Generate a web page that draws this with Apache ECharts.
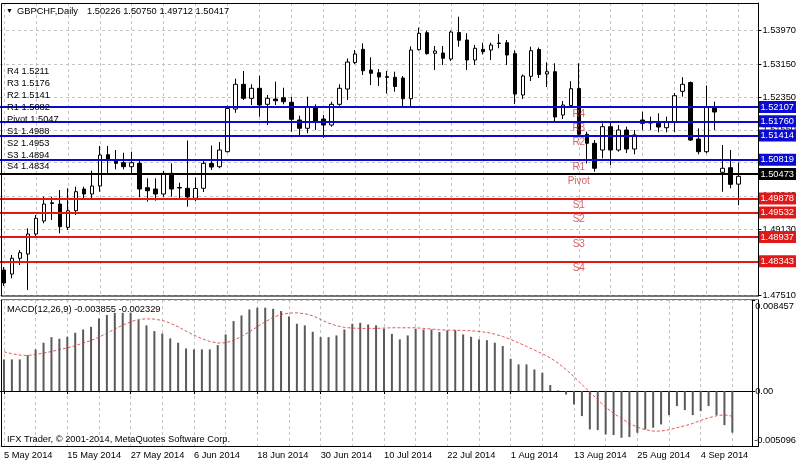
<!DOCTYPE html>
<html>
<head>
<meta charset="utf-8">
<script src="https://cdn.jsdelivr.net/npm/echarts@6/dist/echarts.min.js"></script>
<style>
html,body{margin:0;padding:0;background:#fff;}
#chart{width:799px;height:464px;}
</style>
</head>
<body>
<div id="chart"></div>
<script>
// ---------- DATA ----------
const categories = [
'5 May 2014','6 May 2014','7 May 2014','8 May 2014','9 May 2014','12 May 2014','13 May 2014','14 May 2014','15 May 2014','16 May 2014',
'19 May 2014','20 May 2014','21 May 2014','22 May 2014','23 May 2014','26 May 2014','27 May 2014','28 May 2014','29 May 2014','30 May 2014',
'2 Jun 2014','3 Jun 2014','4 Jun 2014','5 Jun 2014','6 Jun 2014','9 Jun 2014','10 Jun 2014','11 Jun 2014','12 Jun 2014','13 Jun 2014',
'16 Jun 2014','17 Jun 2014','18 Jun 2014','19 Jun 2014','20 Jun 2014','23 Jun 2014','24 Jun 2014','25 Jun 2014','26 Jun 2014','27 Jun 2014',
'30 Jun 2014','1 Jul 2014','2 Jul 2014','3 Jul 2014','4 Jul 2014','7 Jul 2014','8 Jul 2014','9 Jul 2014','10 Jul 2014','11 Jul 2014',
'14 Jul 2014','15 Jul 2014','16 Jul 2014','17 Jul 2014','18 Jul 2014','21 Jul 2014','22 Jul 2014','23 Jul 2014','24 Jul 2014','25 Jul 2014',
'28 Jul 2014','29 Jul 2014','30 Jul 2014','31 Jul 2014','1 Aug 2014','4 Aug 2014','5 Aug 2014','6 Aug 2014','7 Aug 2014','8 Aug 2014',
'11 Aug 2014','12 Aug 2014','13 Aug 2014','14 Aug 2014','15 Aug 2014','18 Aug 2014','19 Aug 2014','20 Aug 2014','21 Aug 2014','22 Aug 2014',
'25 Aug 2014','26 Aug 2014','27 Aug 2014','28 Aug 2014','29 Aug 2014','1 Sep 2014','2 Sep 2014','3 Sep 2014','4 Sep 2014','5 Sep 2014',
'8 Sep 2014','9 Sep 2014','10 Sep 2014','11 Sep 2014','12 Sep 2014'
];

const opens = [
1.48131,1.48033,1.48417,1.48521,1.49009,1.49327,1.49754,1.49741,1.49173,1.49578,
1.50107,1.49985,1.50181,1.50944,1.50815,1.50749,1.50652,1.50734,1.50139,1.50107,
1.49985,1.50490,1.50144,1.50125,1.49881,1.50125,1.50730,1.50652,1.51018,1.52059,
1.52662,1.52320,1.52565,1.52174,1.52303,1.52335,1.52223,1.51791,1.51589,1.52116,
1.51815,1.51669,1.52174,1.52547,1.53194,1.53516,1.53011,1.52945,1.52848,1.52833,
1.52816,1.52311,1.53506,1.53921,1.53419,1.53426,1.53279,1.53926,1.53743,1.53255,
1.53516,1.53499,1.53658,1.53677,1.53409,1.52401,1.52857,1.53511,1.52913,1.52970,
1.51913,1.52145,1.52560,1.51442,1.51223,1.51059,1.51628,1.51059,1.51547,1.51083,
1.51791,1.51730,1.51725,1.51603,1.51750,1.52491,1.52706,1.51327,1.51018,1.52116,
1.50515,1.50627,1.50226
];
const highs = [
1.48204,1.48497,1.48619,1.49149,1.49473,1.49920,1.49920,1.50083,1.50125,1.50164,
1.50164,1.50554,1.51157,1.51157,1.51059,1.50993,1.51018,1.50815,1.50369,1.50369,
1.50554,1.50734,1.50261,1.51291,1.50388,1.50839,1.51169,1.51254,1.52145,1.52799,
1.52987,1.52662,1.52872,1.52401,1.52726,1.52579,1.52360,1.51896,1.52360,1.52174,
1.51913,1.52238,1.52662,1.53292,1.53499,1.53663,1.53321,1.53035,1.52987,1.52970,
1.52865,1.53589,1.54048,1.53970,1.53597,1.53597,1.53975,1.54312,1.53907,1.53621,
1.53677,1.53677,1.53889,1.53743,1.53492,1.52901,1.53580,1.53560,1.53199,1.53175,
1.52255,1.52738,1.53175,1.51506,1.51303,1.51710,1.51750,1.51669,1.51628,1.51547,
1.51994,1.51872,1.51955,1.51872,1.52450,1.52835,1.52730,1.51589,1.52633,1.52238,
1.51181,1.51059,1.50750
];
const lows = [
1.47741,1.47929,1.48253,1.47643,1.48944,1.49271,1.49351,1.49027,1.49107,1.49473,
1.49881,1.49881,1.50042,1.50490,1.50588,1.50588,1.50490,1.49905,1.49798,1.49822,
1.49920,1.49920,1.49856,1.49676,1.49815,1.50034,1.50571,1.50613,1.50998,1.51967,
1.52279,1.52157,1.51872,1.51669,1.52157,1.52174,1.51506,1.51384,1.51467,1.51547,
1.51359,1.51628,1.52140,1.52279,1.53157,1.52889,1.52645,1.52621,1.52438,1.52482,
1.52120,1.52120,1.53487,1.53389,1.53011,1.53133,1.53231,1.53580,1.53011,1.53133,
1.53389,1.53255,1.53541,1.53133,1.52181,1.52303,1.52743,1.52816,1.52596,1.51767,
1.51815,1.52096,1.51384,1.50734,1.50530,1.50857,1.50693,1.51018,1.50986,1.50954,
1.51547,1.51547,1.51491,1.51491,1.51491,1.52360,1.51279,1.50954,1.50979,1.51547,
1.50042,1.50125,1.49712
];
const closes = [
1.47814,1.48417,1.48553,1.49009,1.49393,1.49741,1.49773,1.49188,1.49578,1.50042,
1.49985,1.50181,1.50937,1.50832,1.50734,1.50652,1.50749,1.50107,1.50066,1.49985,
1.50490,1.50107,1.50132,1.49912,1.50120,1.50734,1.50644,1.51059,1.52072,1.52662,
1.52320,1.52565,1.52157,1.52320,1.52262,1.52238,1.51808,1.51589,1.52116,1.51735,
1.51669,1.52174,1.52565,1.53206,1.53401,1.52994,1.52931,1.52840,1.52833,1.52608,
1.52311,1.53499,1.53907,1.53409,1.53475,1.53297,1.53938,1.53736,1.53255,1.53541,
1.53458,1.53621,1.53670,1.53377,1.52425,1.52865,1.53482,1.52901,1.52970,1.51864,
1.52157,1.52555,1.51442,1.51223,1.50613,1.51628,1.51059,1.51547,1.51083,1.51425,
1.51710,1.51718,1.51620,1.51750,1.52384,1.52662,1.51303,1.51018,1.52116,1.51986,
1.50613,1.50222,1.50417
];

const macdHist = [
0.00294,0.00294,0.00294,0.00334,0.00387,0.00449,0.00501,0.00486,0.00504,0.00542,
0.00572,0.00597,0.00675,0.00706,0.00727,0.00727,0.00727,0.00659,0.00610,0.00557,
0.00535,0.00489,0.00449,0.00396,0.00387,0.00387,0.00387,0.00427,0.00526,0.00650,
0.00702,0.00758,0.00774,0.00774,0.00764,0.00743,0.00693,0.00625,0.00610,0.00551,
0.00501,0.00501,0.00517,0.00572,0.00625,0.00634,0.00619,0.00610,0.00579,0.00532,
0.00480,0.00517,0.00579,0.00572,0.00572,0.00548,0.00563,0.00566,0.00526,0.00504,
0.00480,0.00473,0.00449,0.00418,0.00300,0.00248,0.00248,0.00201,0.00170,0.00056,
0.00006,-0.00031,-0.00124,-0.00232,-0.00356,-0.00362,-0.00402,-0.00408,-0.00433,-0.00427,
-0.00387,-0.00356,-0.00340,-0.00309,-0.00223,-0.00139,-0.00176,-0.00223,-0.00186,-0.00139,
-0.00223,-0.00316,-0.003855
];
const macdSignal = [
0.00365,0.00347,0.00334,0.00331,0.00340,0.00353,0.00368,0.00384,0.00402,0.00421,
0.00446,0.00470,0.00501,0.00538,0.00576,0.00613,0.00644,0.00665,0.00671,0.00668,
0.00656,0.00631,0.00597,0.00557,0.00520,0.00486,0.00461,0.00446,0.00449,0.00470,
0.00507,0.00551,0.00597,0.00644,0.00684,0.00712,0.00724,0.00727,0.00718,0.00699,
0.00665,0.00631,0.00607,0.00591,0.00585,0.00582,0.00582,0.00582,0.00585,0.00588,
0.00588,0.00588,0.00588,0.00582,0.00576,0.00569,0.00566,0.00566,0.00563,0.00560,
0.00554,0.00545,0.00529,0.00507,0.00480,0.00449,0.00415,0.00381,0.00347,0.00309,
0.00260,0.00201,0.00133,0.00062,-0.00009,-0.00080,-0.00149,-0.00207,-0.00254,-0.00300,
-0.00334,-0.00359,-0.00371,-0.00371,-0.00359,-0.00340,-0.00322,-0.00300,-0.00272,-0.00248,
-0.00229,-0.00220,-0.002329
];

const pivotNames  = ['R4','R3','R2','R1','Pivot','S1','S2','S3','S4'];
const pivotLevels = [1.52107,1.51760,1.51414,1.50819,1.50473,1.49878,1.49532,1.48937,1.48343];
const pivotLabelBar = 72;
const infoLines = ['R4 1.5211','R3 1.5176','R2 1.5141','R1 1.5082','Pivot 1.5047','S1 1.4988','S2 1.4953','S3 1.4894','S4 1.4834'];
const priceTicks = [1.47510,1.48320,1.49130,1.49940,1.50750,1.51550,1.52350,1.53150,1.53970];
const macdTicks = [-0.005096,0,0.008457];
const titleText = 'GBPCHF,Daily';
const titleValues = '1.50226 1.50750 1.49712 1.50417';
const macdText = 'MACD(12,26,9) -0.003855 -0.002329';
const copyrightText = 'IFX Trader, \u00A9 2001-2014, MetaQuotes Software Corp.';

// ---------- STYLES ----------
const FF = '"Liberation Sans", Arial, sans-serif';
const FS = 9.3;
const BLUE = '#0a0ad2', RED = '#e01818', BLACK = '#000';
function pivotColor(i){ return i < 4 ? BLUE : (i === 4 ? BLACK : RED); }
const gridDash = {color:'#c4c4c4', type:[3,3], width:1};

const candleData = opens.map((o,i)=>[o, closes[i], lows[i], highs[i]]);

const chart = echarts.init(document.getElementById('chart'), null, {renderer:'canvas'});

const option = {
  animation:false,
  backgroundColor:'#fff',
  grid:[
    {left:-1, top:3, width:760, height:293},
    {left:-1, top:300, width:760, height:146}
  ],
  xAxis:[
    {type:'category', gridIndex:0, data:categories, boundaryGap:true,
     axisLine:{show:false}, axisTick:{show:false}, axisLabel:{show:false},
     splitLine:{show:true, alignWithLabel:true, interval:(i)=>i%4===0, lineStyle:gridDash}},
    {type:'category', gridIndex:1, data:categories, boundaryGap:true,
     axisLine:{show:true, lineStyle:{color:'#000'}},
     axisTick:{show:true, alignWithLabel:true, interval:(i)=>i%8===0, length:3, lineStyle:{color:'#000'}},
     axisLabel:{show:true, interval:(i)=>i%8===0, align:'left', color:'#000', fontSize:FS, fontFamily:FF, margin:5},
     splitLine:{show:true, alignWithLabel:true, interval:(i)=>i%4===0, lineStyle:gridDash}}
  ],
  yAxis:[
    {type:'value', gridIndex:0, position:'right', min:1.47497, max:1.54646, scale:true,
     axisLine:{show:true, lineStyle:{color:'#000'}},
     axisTick:{show:true, length:3, customValues:priceTicks, lineStyle:{color:'#000'}},
     axisLabel:{show:true, customValues:priceTicks, formatter:(v)=>v.toFixed(5), color:'#000', fontSize:FS, fontFamily:FF, margin:4},
     splitLine:{show:true, lineStyle:gridDash}},
    {type:'value', gridIndex:1, position:'right', min:-0.005096, max:0.008457,
     axisLine:{show:true, lineStyle:{color:'#000'}},
     axisTick:{show:true, length:3, customValues:macdTicks, lineStyle:{color:'#000'}},
     axisLabel:{show:true, customValues:macdTicks, color:'#000', fontSize:FS, fontFamily:FF, margin:2,
       formatter:(v)=>{
         if (v === 0) return '{m|0.00}';
         if (v > 0) return '{t|' + v.toFixed(6) + '}';
         return '{b|' + v.toFixed(6) + '}';
       },
       rich:{
         m:{fontSize:FS, fontFamily:FF, color:'#000', padding:[0,0,0,1]},
         t:{fontSize:FS, fontFamily:FF, color:'#000', padding:[13,0,0,1]},
         b:{fontSize:FS, fontFamily:FF, color:'#000', padding:[0,0,12,0]}
       }},
     splitLine:{show:true, lineStyle:gridDash}}
  ],
  series:[
    {type:'candlestick', xAxisIndex:0, yAxisIndex:0, data:candleData, barWidth:4, clip:false,
     itemStyle:{color:'#fff', color0:'#000', borderColor:'#000', borderColor0:'#000', borderWidth:1},
     markLine:{silent:true, symbol:['none','none'], animation:false, precision:5,
       data: pivotLevels.map((lv,i)=>({
         yAxis: lv,
         lineStyle:{color:pivotColor(i), width:2, type:'solid'},
         label:{show:true, position:'end', distance:0, formatter: lv.toFixed(5),
                color:'#fff', backgroundColor:pivotColor(i), padding:[2,2,1,2],
                fontSize:FS, fontFamily:FF}
       }))
     }},
    {type:'scatter', xAxisIndex:0, yAxisIndex:0, symbolSize:0, silent:true,
     data: pivotLevels.map((lv,i)=>({value:[pivotLabelBar, lv], name:pivotNames[i]})),
     label:{show:true, position:'bottom', distance:2, formatter:(p)=>p.name,
            color:'#c83c3c', fontSize:10, fontFamily:FF}},
    {type:'bar', xAxisIndex:1, yAxisIndex:1, data:macdHist, barWidth:2,
     itemStyle:{color:'#5a5a5a'}},
    {type:'line', xAxisIndex:1, yAxisIndex:1, data:macdSignal, symbol:'none', smooth:false,
     lineStyle:{color:'#e03a3a', width:1, type:[3,2], opacity:0.85}}
  ],
  graphic:[
    {type:'rect', z:100, shape:{x:1.5, y:3.5, width:757, height:292.5}, style:{fill:'none', stroke:'#000', lineWidth:1}},
    {type:'rect', z:100, shape:{x:1.5, y:299.5, width:757, height:147}, style:{fill:'none', stroke:'#000', lineWidth:1}},
    {type:'line', z:101, shape:{x1:1, y1:296.5, x2:759, y2:296.5}, style:{stroke:'#777', lineWidth:1}},
    {type:'line', z:101, shape:{x1:1, y1:299.5, x2:759, y2:299.5}, style:{stroke:'#777', lineWidth:1}},
    {type:'text', z:100, x:6, y:11, style:{text:'\u25BC', fill:'#000', fontSize:7, fontFamily:FF, verticalAlign:'middle'}},
    {type:'text', z:100, x:17, y:11, style:{text:titleText, fill:'#000', fontSize:FS, fontFamily:FF, verticalAlign:'middle'}},
    {type:'text', z:100, x:87, y:11, style:{text:titleValues, fill:'#000', fontSize:FS, fontFamily:FF, verticalAlign:'middle'}},
    ...infoLines.map((t,i)=>({type:'text', z:100, x:7, y:71.7 + i*11.9,
       style:{text:t, fill:'#000', fontSize:FS, fontFamily:FF, verticalAlign:'middle'}})),
    {type:'text', z:100, x:7, y:309.5, style:{text:macdText, fill:'#000', fontSize:FS, fontFamily:FF, verticalAlign:'middle'}},
    {type:'text', z:100, x:7, y:439, style:{text:copyrightText, fill:'#000', fontSize:FS, fontFamily:FF, verticalAlign:'middle'}}
  ]
};
chart.setOption(option);
</script>
</body>
</html>
